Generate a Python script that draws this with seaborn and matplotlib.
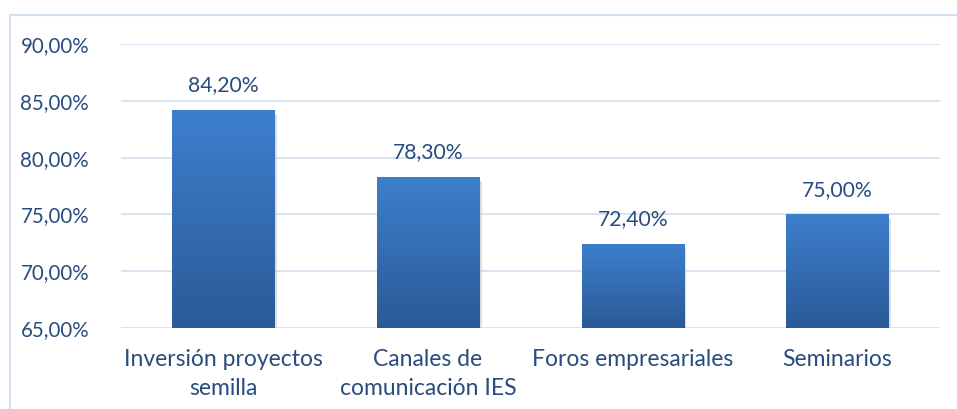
import numpy as np
import pandas as pd
import matplotlib
matplotlib.use("Agg")
import matplotlib.pyplot as plt
import seaborn as sns
from matplotlib.patches import Rectangle
from matplotlib.colors import LinearSegmentedColormap

# Chart data
categories = ["Inversión proyectos\nsemilla", "Canales de\ncomunicación IES",
              "Foros empresariales", "Seminarios"]
values = [84.2, 78.3, 72.4, 75.0]
value_labels = ["84,20%", "78,30%", "72,40%", "75,00%"]
y_ticks = [65, 70, 75, 80, 85, 90]
y_tick_labels = ["65,00%", "70,00%", "75,00%", "80,00%", "85,00%", "90,00%"]

df = pd.DataFrame({"cat": categories, "val": values})

sns.set_theme(style="white")
plt.rcParams["font.family"] = ["Lato", "DejaVu Sans"]
text_color = "#284C7D"
grid_color = "#D5E1F1"

fig = plt.figure(figsize=(9.57, 4.09), dpi=100)
ax = fig.add_axes([0.1264, 0.198, 0.8556, 0.694])

sns.barplot(data=df, x="cat", y="val", color="#3A78C2", width=0.5, ax=ax,
            saturation=1, zorder=3)

ax.set_ylim(65, 90)
ax.set_yticks(y_ticks)
ax.set_yticklabels(y_tick_labels)
ax.set_xlim(-0.5, len(categories) - 0.5)
ax.grid(axis="y", color=grid_color, linewidth=1.3, zorder=0)
ax.set_axisbelow(True)
for s in ax.spines.values():
    s.set_visible(False)
ax.set_xlabel("")
ax.set_ylabel("")
ax.tick_params(axis="y", length=0, pad=23, labelsize=14.8, labelcolor=text_color)
ax.tick_params(axis="x", length=0, pad=15, labelsize=16.5, labelcolor=text_color)
for lbl in ax.get_xticklabels():
    lbl.set_linespacing(1.5)

# gradient fill + subtle shadow on each bar
cmap = LinearSegmentedColormap.from_list("bar", ["#2B5A96", "#3D7FCD"])
grad = np.linspace(0, 1, 256).reshape(-1, 1)
for patch, lab in zip(ax.patches, value_labels):
    x0 = patch.get_x()
    w = patch.get_width()
    h = patch.get_height()
    shadow = Rectangle((x0 + 0.012, 64.8), w, h - 65 - 0.15, facecolor="#C9C9C9",
                       edgecolor="none", alpha=0.6, zorder=2)
    ax.add_patch(shadow)
    patch.set_facecolor("none")
    patch.set_edgecolor("none")
    im = ax.imshow(grad, extent=[x0, x0 + w, 65, h], origin="lower",
                   cmap=cmap, aspect="auto", zorder=3)
    im.set_clip_path(patch)
    ax.text(x0 + w / 2, h + 1.3, lab, ha="center", va="bottom",
            fontsize=15.2, color=text_color)
ax.set_xlim(-0.5, len(categories) - 0.5)
ax.set_ylim(65, 90)

# outer chart border
fig.patches.append(Rectangle((10 / 957, -0.05), 1.1, 1 - 15 / 409 + 0.05,
                             transform=fig.transFigure, fill=False,
                             edgecolor="#D3E0F0", linewidth=1.5))

fig.savefig("out.png", dpi=100, facecolor="white")
